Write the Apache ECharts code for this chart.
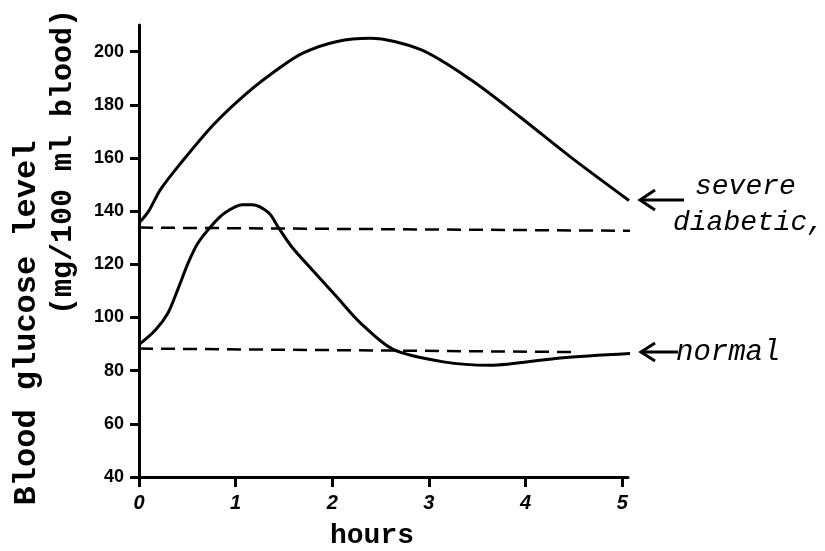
<!DOCTYPE html>
<html>
<head>
<meta charset="utf-8">
<script src="https://cdn.jsdelivr.net/npm/echarts@6/dist/echarts.min.js"></script>
<style>html,body{margin:0;padding:0;background:#fff}#c{width:825px;height:551px}</style>
</head>
<body>
<div id="c"></div>
<script>
// ---- data ----
const yTicks = [40, 60, 80, 100, 120, 140, 160, 180, 200];
const xTicks = [0, 1, 2, 3, 4, 5];
const xTickLabels = ['0', '1', '2', '3', '4', '5'];

const severeHours  = [0, 0.1, 0.22, 0.42, 0.77, 1.12, 1.46, 1.70, 2.05, 2.39, 2.91, 3.43, 3.94, 4.46, 5.07];
const severeValues = [135.5, 140, 148, 157.5, 172.5, 184.5, 194, 199.5, 203.8, 205, 200.8, 189.5, 175.5, 160.5, 144];

const normalHours  = [0, 0.17, 0.30, 0.40, 0.51, 0.61, 0.76, 0.89, 1.07, 1.17, 1.34, 1.44, 1.58, 1.82, 2.05, 2.29, 2.63, 3.15, 3.63, 4.36, 5.1];
const normalValues = [89.8, 95.3, 101.7, 110.4, 120.6, 128, 134.9, 139.4, 142.4, 142.4, 139.4, 134, 126.6, 116.8, 107.6, 98, 88, 83.3, 82, 84.8, 86.5];

const severeRefHours  = [0, 5.13];
const severeRefValues = [133.8, 132.6];
const normalRefHours  = [0, 4.5];
const normalRefValues = [88.3, 87];

const yTitle1 = 'Blood glucose level';
const yTitle2 = '(mg/100 ml blood)';
const xTitle = 'hours';
const severeLabel1 = 'severe';
const severeLabel2 = 'diabetic,';
const normalLabel = 'normal';

// ---- chart ----
const pairs = (xs, ys) => xs.map((x, i) => [x, ys[i]]);
const chart = echarts.init(document.getElementById('c'), null, {renderer: 'canvas'});

const mono = "'Liberation Mono', 'DejaVu Sans Mono', monospace";
const lineStyleSolid = {color: '#000', width: 3};
const lineStyleDash = {color: '#000', width: 2.5, type: [14, 8]};

chart.setOption({
  backgroundColor: '#fff',
  animation: false,
  grid: {left: 139, right: 197, top: 25, bottom: 74},
  xAxis: {
    type: 'value', min: 0, max: 5.06,
    axisLine: {show: true, lineStyle: {color: '#000', width: 3}},
    axisTick: {show: true, length: 10, inside: false, customValues: xTicks, lineStyle: {color: '#000', width: 3}},
    axisLabel: {
      customValues: xTicks, margin: 16, color: '#000',
      fontFamily: "'Liberation Sans', sans-serif", fontWeight: 'bold', fontStyle: 'italic', fontSize: 20,
      formatter: v => xTickLabels[xTicks.indexOf(Math.round(v))] ?? ''
    },
    splitLine: {show: false}
  },
  yAxis: {
    type: 'value', min: 40, max: 210,
    axisLine: {show: true, lineStyle: {color: '#000', width: 3}},
    axisTick: {show: true, length: 9, customValues: yTicks, lineStyle: {color: '#000', width: 3}},
    axisLabel: {
      customValues: yTicks, margin: 15, color: '#000',
      fontFamily: "'Liberation Sans', sans-serif", fontWeight: 'bold', fontSize: 18
    },
    splitLine: {show: false}
  },
  series: [
    {type: 'line', name: 'severe diabetic', data: pairs(severeHours, severeValues), smooth: 0.3, symbol: 'none', clip: false, lineStyle: lineStyleSolid},
    {type: 'line', name: 'normal', data: pairs(normalHours, normalValues), smooth: 0.3, symbol: 'none', clip: false, lineStyle: lineStyleSolid},
    {type: 'line', name: 'severe ref', data: pairs(severeRefHours, severeRefValues), symbol: 'none', clip: false, lineStyle: lineStyleDash},
    {type: 'line', name: 'normal ref', data: pairs(normalRefHours, normalRefValues), symbol: 'none', clip: false, lineStyle: lineStyleDash}
  ],
  graphic: [
    {type: 'text', x: 27, y: 323, rotation: Math.PI / 2,
     style: {text: yTitle1, font: "bold 32px " + mono, fill: '#000', align: 'center', verticalAlign: 'middle'}},
    {type: 'text', x: 63, y: 162, rotation: Math.PI / 2,
     style: {text: yTitle2, font: "bold 30px " + mono, fill: '#000', align: 'center', verticalAlign: 'middle'}},
    {type: 'text', x: 372, y: 536,
     style: {text: xTitle, font: "bold 28px " + mono, fill: '#000', align: 'center', verticalAlign: 'middle'}},
    {type: 'text', x: 695, y: 187,
     style: {text: severeLabel1, font: "italic 28px " + mono, fill: '#000', align: 'left', verticalAlign: 'middle'}},
    {type: 'text', x: 673, y: 223,
     style: {text: severeLabel2, font: "italic 28px " + mono, fill: '#000', align: 'left', verticalAlign: 'middle'}},
    {type: 'text', x: 676, y: 352,
     style: {text: normalLabel, font: "italic 29px " + mono, fill: '#000', align: 'left', verticalAlign: 'middle'}},
    {type: 'line', shape: {x1: 640, y1: 200, x2: 684, y2: 200}, style: {stroke: '#000', lineWidth: 3}},
    {type: 'polyline', shape: {points: [[655, 190], [640, 200], [655, 210]]}, style: {stroke: '#000', lineWidth: 3, fill: null}},
    {type: 'line', shape: {x1: 641, y1: 352, x2: 678, y2: 352}, style: {stroke: '#000', lineWidth: 3}},
    {type: 'polyline', shape: {points: [[655, 343], [641, 352], [655, 361]]}, style: {stroke: '#000', lineWidth: 3, fill: null}}
  ]
});
</script>
</body>
</html>
